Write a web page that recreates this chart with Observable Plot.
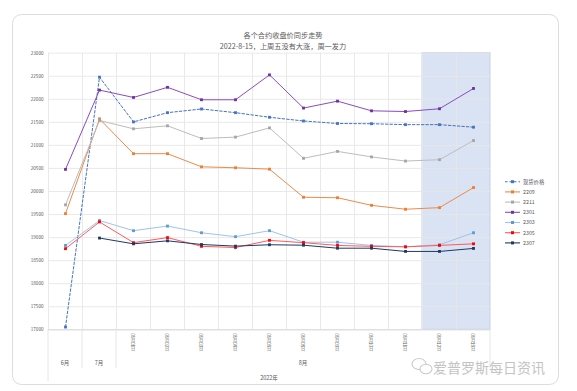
<!DOCTYPE html>
<html><head><meta charset="utf-8">
<script src="https://cdn.jsdelivr.net/npm/d3@7"></script>
<script src="https://cdn.jsdelivr.net/npm/@observablehq/plot@0.6"></script>
<style>
body{margin:0;background:#fff;}
#chart{position:relative;width:577px;height:391px;}
</style>
</head><body><div id="chart"></div>
<script>
// ---- data ----
const categories = ["6月","7月","08月01日","08月02日","08月03日","08月04日","08月05日","08月08日","08月09日","08月10日","08月11日","08月12日","08月15日"];
const monthLabels = ["6月","7月","8月"];
const yearLabel = "2022年";
const seriesNames = ["现货价格","2209","2211","2301","2303","2305","2307"];
const spot  = [17060, 22480, 21510, 21710, 21790, 21710, 21610, 21530, 21475, 21470, 21450, 21450, 21395];
const c2209 = [19520, 21575, 20820, 20820, 20535, 20515, 20485, 19875, 19865, 19700, 19615, 19650, 20085];
const c2211 = [19710, 21540, 21360, 21425, 21150, 21180, 21380, 20720, 20870, 20750, 20660, 20690, 21105];
const c2301 = [20480, 22200, 22040, 22260, 21990, 21990, 22530, 21810, 21960, 21750, 21735, 21795, 22235];
const c2303 = [18830, 19370, 19150, 19250, 19105, 19020, 19150, 18900, 18900, 18830, 18800, 18845, 19105];
const c2305 = [18760, 19340, 18890, 19000, 18810, 18785, 18940, 18890, 18830, 18810, 18800, 18830, 18865];
const c2307 = [null,  18990, 18865, 18930, 18850, 18815, 18845, 18835, 18770, 18770, 18700, 18700, 18765];
const yTicks = d3.range(17000, 23001, 500);
const highlighted = ["08月12日","08月15日"];
const titleText = "各个合约收盘价同步走势";
const subtitleText = "2022-8-15，上周五没有大涨，周一发力";
const watermark = "爱普罗斯每日资讯";

// ---- styles ----
const lineColors   = ["#4472c4","#ee8a4a","#bdbdbd","#8a4cc0","#9fc3ea","#ff5a5a","#1f3864"];
const markerColors = ["#4472c4","#ed7d31","#a5a5a5","#7030a0","#5b9bd5","#ff0000","#1f3864"];
const font = "'Noto Sans CJK SC', 'Noto Sans', sans-serif";
const textColor = "#595959";

const allValues = [spot, c2209, c2211, c2301, c2303, c2305, c2307];
const idx = categories.map((c, i) => i);
const seriesData = seriesNames.map((name, k) =>
  allValues[k].map((v, i) => ({name, i, v})).filter(d => d.v != null));

const hiStart = categories.indexOf(highlighted[0]) - 0.5;
const hiEnd = categories.indexOf(highlighted[highlighted.length - 1]) + 0.5;
const boundaries = d3.range(-0.5, categories.length, 1);

const marks = [
  Plot.rect([0], {x1: hiStart, x2: hiEnd, y1: yTicks[0], y2: yTicks[yTicks.length-1], fill: "#dae3f3", stroke: "#c5d3ea", strokeWidth: 1}),
  Plot.ruleY(yTicks, {stroke: "#e6e6e6", strokeWidth: 0.9}),
  Plot.ruleX(boundaries, {y1: yTicks[0], y2: yTicks[yTicks.length-1], stroke: "#e6e6e6", strokeWidth: 0.9}),
  Plot.ruleY([yTicks[0]], {stroke: "#d9d9d9", strokeWidth: 1}),
  Plot.text(yTicks, {x: -0.5, y: d => d, text: d => String(d), textAnchor: "end", dx: -5, fontSize: 4.6, fill: textColor}),
];
seriesData.forEach((data, k) => {
  marks.push(Plot.line(data, {x: "i", y: "v", stroke: lineColors[k], strokeWidth: 1,
    strokeDasharray: k === 0 ? "2.5,2" : null}));
  marks.push(Plot.dot(data, {x: "i", y: "v", fill: markerColors[k], r: 1.6, symbol: "square"}));
});

const plot = Plot.plot({
  width: 577, height: 391,
  marginLeft: 48, marginRight: 87, marginTop: 52.7, marginBottom: 61.7,
  x: {domain: [-0.5, categories.length - 0.5], axis: null},
  y: {domain: [yTicks[0], yTicks[yTicks.length-1]], axis: null},
  style: {fontFamily: font, background: "#fff", overflow: "visible"},
  marks
});
document.getElementById("chart").appendChild(plot);

const svg = d3.select(plot);
const xs = plot.scale("x"), ys = plot.scale("y");
const X = v => xs.apply(v), Y = v => ys.apply(v);
const base = Y(yTicks[0]);

// card frame behind everything
svg.insert("rect", ":first-child")
  .attr("x", 12.5).attr("y", 14.5).attr("width", 546).attr("height", 370)
  .attr("rx", 9).attr("fill", "#fff").attr("stroke", "#dcdcdc").attr("stroke-width", 1);

// vertical day labels
idx.filter(i => i >= 2).forEach(i => {
  svg.append("text").attr("x", X(i)).attr("y", base + 4)
    .attr("writing-mode", "tb")
    .style("writing-mode", "vertical-rl")
    .style("text-orientation", "mixed")
    .attr("text-anchor", "start")
    .attr("font-size", 4.2).attr("fill", textColor).attr("font-family", font)
    .text(categories[i]);
});

// category separators in axis area
[-0.5, 0.5, 1.5, categories.length - 0.5].forEach(b => {
  svg.append("line").attr("x1", X(b)).attr("x2", X(b)).attr("y1", base).attr("y2", b === -0.5 ? base + 52 : base + 39)
    .attr("stroke", "#e3e3e3").attr("stroke-width", 0.9);
});
// month labels
const monthPos = [0, 1, (2 + categories.length - 1) / 2];
monthLabels.forEach((m, j) => {
  svg.append("text").attr("x", X(monthPos[j])).attr("y", base + 36).attr("text-anchor", "middle")
    .attr("font-size", 5.5).attr("fill", textColor).attr("font-family", font).text(m);
});
svg.append("text").attr("x", X((categories.length - 1) / 2)).attr("y", base + 51).attr("text-anchor", "middle")
  .attr("font-size", 5.5).attr("fill", textColor).attr("font-family", font).text(yearLabel);

// title
svg.append("text").attr("x", 283).attr("y", 37.5).attr("text-anchor", "middle")
  .attr("font-size", 7.2).attr("fill", textColor).attr("font-family", font).text(titleText);
svg.append("text").attr("x", 283).attr("y", 49).attr("text-anchor", "middle")
  .attr("font-size", 7.2).attr("fill", textColor).attr("font-family", font).text(subtitleText);

// legend
seriesNames.forEach((name, k) => {
  const ly = 181.7 + k * 10.2;
  svg.append("line").attr("x1", 505).attr("x2", 520).attr("y1", ly).attr("y2", ly)
    .attr("stroke", lineColors[k]).attr("stroke-width", 1.1)
    .attr("stroke-dasharray", k === 0 ? "2.5,2" : null);
  svg.append("rect").attr("x", 511).attr("y", ly - 1.5).attr("width", 3).attr("height", 3).attr("fill", markerColors[k]);
  svg.append("text").attr("x", 523).attr("y", ly + 1.8).attr("font-size", 5.3).attr("text-anchor", "start")
    .attr("fill", textColor).attr("font-family", font).text(name);
});

// watermark
const wm = svg.append("g").attr("fill", "none").attr("stroke", "#c9c9c9").attr("stroke-width", 1.1);
wm.append("ellipse").attr("cx", 419).attr("cy", 364).attr("rx", 7).attr("ry", 5.5).attr("fill", "#fff");
wm.append("ellipse").attr("cx", 426).attr("cy", 369).attr("rx", 6).attr("ry", 4.8).attr("fill", "#fff");
svg.append("text").attr("x", 433).attr("y", 373).attr("font-size", 14).attr("text-anchor", "start")
  .attr("fill", "#c4c4c4").attr("font-family", font).text(watermark);
</script>
</body></html>
